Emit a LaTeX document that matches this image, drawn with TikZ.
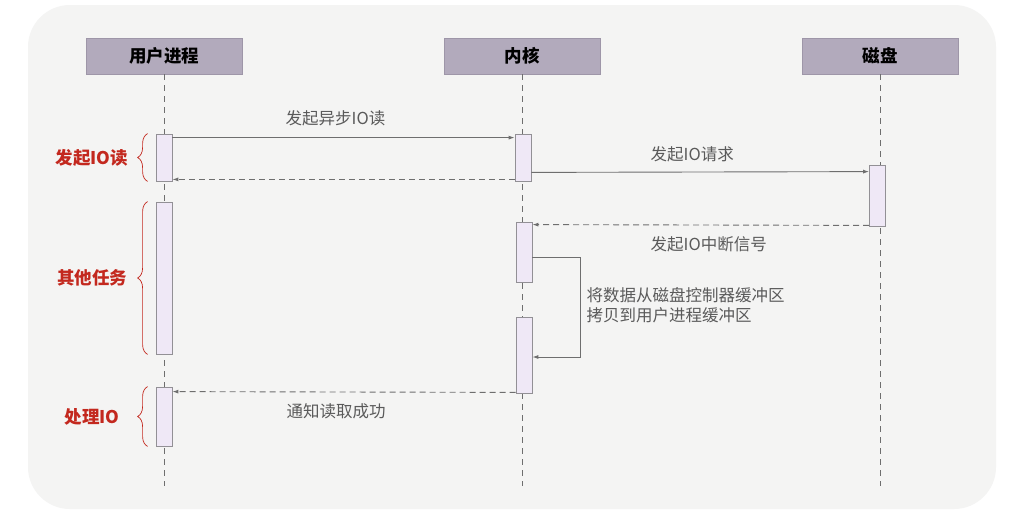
\documentclass[tikz,border=0pt]{standalone}
\usepackage{fontspec}
\setmainfont{Noto Sans CJK SC}
\usetikzlibrary{arrows.meta,decorations.pathreplacing,calc}
\definecolor{headfill}{HTML}{B2AABC}
\definecolor{headdraw}{HTML}{9E96A8}
\definecolor{actfill}{HTML}{EFE8F6}
\definecolor{actdraw}{HTML}{929095}
\definecolor{msgcol}{HTML}{6E6E6E}
\definecolor{txtcol}{HTML}{5A5A5A}
\definecolor{notecol}{HTML}{C3281E}
\definecolor{bgcol}{HTML}{F4F4F3}
\tikzset{
	head/.style={fill=headfill, draw=headdraw, line width=.8pt, minimum width=156pt, minimum height=36pt, inner sep=0pt, font=\fontsize{17.5}{20}\selectfont\bfseries},
	act/.style={fill=actfill, draw=actdraw, line width=.8pt, minimum width=16pt, inner sep=0pt},
	life/.style={draw=msgcol, line width=.6pt, dash pattern=on 6pt off 5pt},
	msg/.style={draw=msgcol, line width=.9pt, -{Latex[length=6pt,width=4pt]}},
	ret/.style={msg, dash pattern=on 6pt off 4pt},
	lbl/.style={text=txtcol, font=\fontsize{16.5}{20}\selectfont, inner sep=0pt},
	note/.style={text=notecol, font=\fontsize{17.5}{20}\selectfont\bfseries, inner sep=0pt},
	brc/.style={draw=notecol, line width=.7pt, decorate, decoration={brace, amplitude=10pt}}
}
\begin{document}
\begin{tikzpicture}[x=1pt, y=-1pt]
			\useasboundingbox (0,0) rectangle (1014,515);
			\fill[white] (0,0) rectangle (1014,515);
			\fill[bgcol, rounded corners=42pt] (28,5) rectangle (996,509);
			% heads and lifelines
			\foreach \name/\x/\txt in {user/164/用户进程, kernel/522/内核, disk/880/磁盘}
				{
					\node[head] (\name) at (\x,56) {\txt};
					\coordinate (\name end) at (\x,486);
					\draw[life] (\name) -- (\name end);
				}
			% activations
			\foreach \name/\x/\y/\h in {ua1/164/157.5/47, ua2/164/278/152, ua3/164/416.5/59,
				ka1/523/157.5/47, ka2/524/252/60, ka3/524/355/76, da1/877.5/195.5/61}
				{
					\node[act, minimum height=\h pt] (\name) at (\x,\y) {};
				}
			% messages
			\draw[msg] ([yshift=-4pt]ua1.north east) -- ([yshift=-4pt]ka1.north west)
				node[lbl, midway, above=11pt, xshift=-8pt] (m1) {发起异步IO读};
			\draw[ret] ([yshift=2pt]ka1.south west) -- ([yshift=2pt]ua1.south east);
			\draw[msg] ([yshift=9pt]ka1.south east) -- ([yshift=-7pt]da1.north west)
				node[lbl, midway, above=10pt, xshift=-8pt] (m2) {发起IO请求};
			\draw[ret] ([yshift=1pt]da1.south west) -- ([yshift=-3pt]ka2.north east)
				node[lbl, midway, below=11pt, xshift=8pt] (m3) {发起IO中断信号};
			\coordinate (loop1) at ($(ka2.east)+(48,5)$);
			\draw[msg] ([yshift=-5pt]ka2.east) -- (loop1) |- ([yshift=-2pt]ka3.east);
			\node[lbl, anchor=west, align=left] (m4) at ($(loop1)+(6,48)$) {将数据从磁盘控制器缓冲区\\拷贝到用户进程缓冲区};
			\draw[ret] ([yshift=1pt]ka3.south west) -- ([yshift=-5pt]ua3.north east)
				node[lbl, midway, below=11pt, xshift=-8pt] (m5) {通知读取成功};
			% notes
			\foreach \name/\txt in {ua1/发起IO读, ua2/其他任务, ua3/处理IO}
				{
					\draw[brc] ([xshift=-8pt]\name.south west) -- ([xshift=-8pt]\name.north west);
					\node[note] (\name note) at (92,0 |- \name.west) {\txt};
				}
		\end{tikzpicture}
\end{document}
